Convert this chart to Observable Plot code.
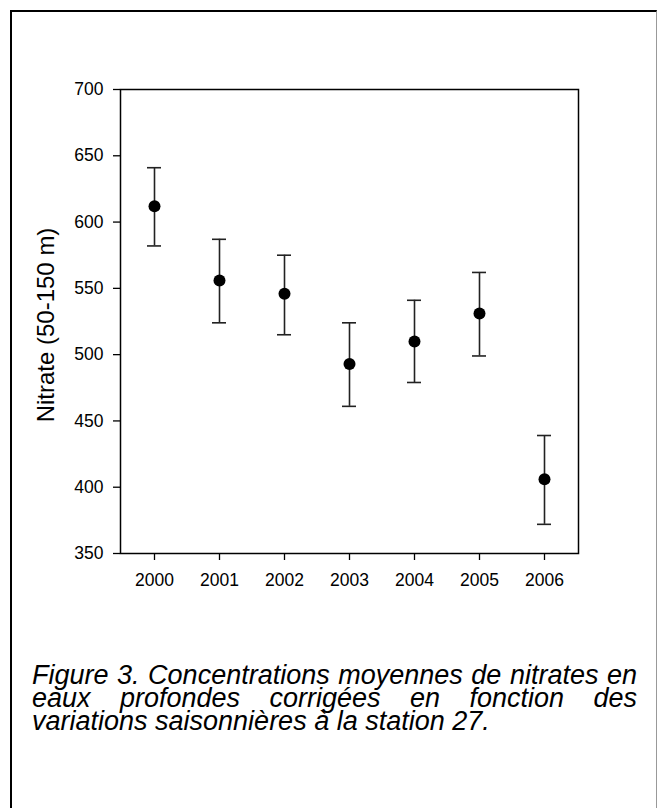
<!DOCTYPE html>
<html>
<head>
<meta charset="utf-8">
<script src="https://cdn.jsdelivr.net/npm/d3@7"></script>
<script src="https://cdn.jsdelivr.net/npm/@observablehq/plot@0.6"></script>
<style>
  html, body { margin: 0; padding: 0; background: #fff; }
  body { width: 658px; height: 808px; position: relative; overflow: hidden; font-family: "Liberation Sans", Arial, sans-serif; }
  #chart { position: absolute; left: 0; top: 0; }
  #border { position: absolute; left: 10px; top: 10px; width: 644px; height: 820px;
            border-left: 2px solid #000; border-top: 2px solid #000; border-right: 1px solid #999; z-index: 2; pointer-events: none; }
  #ylabel { position: absolute; left: 46px; top: 325px; transform: translate(-50%, -50%) rotate(-90deg);
            font-size: 24px; white-space: nowrap; color: #000; }
  #caption { position: absolute; left: 32px; top: 664px; width: 605px; font-size: 27px; line-height: 23px;
             font-style: italic; text-align: justify; color: #000; }
</style>
</head>
<body>
<div id="border"></div>
<div id="chart"></div>
<div id="ylabel">Nitrate (50-150 m)</div>
<div id="caption">Figure 3. Concentrations moyennes de nitrates en eaux profondes corrigées en fonction des variations saisonnières à la station 27.</div>
<script>
const years = [2000, 2001, 2002, 2003, 2004, 2005, 2006];
const means = [612, 556, 546, 493, 510, 531, 406];
const upper = [641, 587, 575, 524, 541, 562, 439];
const lower = [582, 524, 515, 461, 479, 499, 372];
const yTicks = [350, 400, 450, 500, 550, 600, 650, 700];

const data = years.map((y, i) => ({year: y, mean: means[i], hi: upper[i], lo: lower[i]}));

const plot = Plot.plot({
  width: 658,
  height: 620,
  marginLeft: 120,
  marginRight: 80,
  marginTop: 89,
  marginBottom: 67,
  style: {fontFamily: "'Liberation Sans', Arial, sans-serif", fontSize: "17.5px", color: "#000", background: "transparent"},
  x: {type: "band", domain: years, paddingInner: 0.786, paddingOuter: 0.393},
  y: {domain: [350, 700]},
  marks: [
    Plot.frame({stroke: "#000", strokeWidth: 1.5}),
    Plot.axisX({ticks: years, tickSize: 7, tickPadding: 13, tickFormat: d => String(d), label: null, strokeWidth: 1.3}),
    Plot.axisY({ticks: yTicks, tickSize: 7, tickPadding: 10, label: null, strokeWidth: 1.3}),
    Plot.ruleX(data, {x: "year", y1: "lo", y2: "hi", stroke: "#222", strokeWidth: 1.6}),
    Plot.tickY(data, {x: "year", y: "hi", stroke: "#222", strokeWidth: 1.6}),
    Plot.tickY(data, {x: "year", y: "lo", stroke: "#222", strokeWidth: 1.6}),
    Plot.dot(data, {x: "year", y: "mean", r: 6, fill: "#000", stroke: "none"})
  ]
});
document.getElementById("chart").appendChild(plot);
</script>
</body>
</html>
